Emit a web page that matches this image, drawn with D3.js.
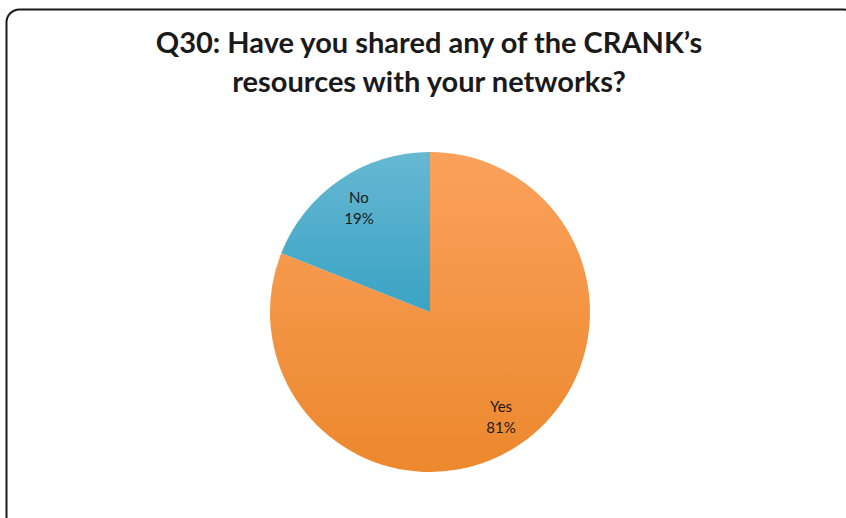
<!DOCTYPE html>
<html>
<head>
<meta charset="utf-8">
<script src="https://cdn.jsdelivr.net/npm/d3@7"></script>
<style>
  html, body { margin: 0; padding: 0; background: #fff; }
  svg { display: block; }
</style>
</head>
<body>
<svg id="chart" width="846" height="518"></svg>
<script>
// Survey answers and their shares (percent)
const answers = ["Yes", "No"];
const shares = [81, 19];
const titleLines = ["Q30: Have you shared any of the CRANK\u2019s", "resources with your networks?"];

const svg = d3.select("#chart");

// Chart frame with rounded corners
svg.append("rect")
  .attr("x", 6.5).attr("y", 9.5)
  .attr("width", 850).attr("height", 520)
  .attr("rx", 13).attr("ry", 13)
  .attr("fill", "#fff")
  .attr("stroke", "#1a1a1a")
  .attr("stroke-width", 2);

// Title
svg.append("text")
  .attr("x", 429).attr("y", 53)
  .attr("text-anchor", "middle")
  .attr("font-family", "Lato, sans-serif")
  .attr("font-weight", "bold")
  .attr("font-size", 29)
  .attr("fill", "#1a1a1a")
  .selectAll("tspan")
  .data(titleLines)
  .join("tspan")
  .attr("x", 429)
  .attr("dy", (d, i) => i === 0 ? 0 : 39)
  .text(d => d);

const cx = 430, cy = 312, R = 160;

// Vertical shading per slice (coordinates relative to the pie centre)
const defs = svg.append("defs");
const fills = {
  Yes: ["#fba15c", "#ec882d", -R, R],
  No: ["#66b8d2", "#3aa3c4", -R, 0]
};
answers.forEach(a => {
  const lg = defs.append("linearGradient")
    .attr("id", "grad-" + a)
    .attr("gradientUnits", "userSpaceOnUse")
    .attr("x1", 0).attr("y1", fills[a][2])
    .attr("x2", 0).attr("y2", fills[a][3]);
  lg.append("stop").attr("offset", "0%").attr("stop-color", fills[a][0]);
  lg.append("stop").attr("offset", "100%").attr("stop-color", fills[a][1]);
});

const data = answers.map((a, i) => ({ answer: a, value: shares[i] }));
const pie = d3.pie().sort(null).value(d => d.value);
const arcs = pie(data);
const arc = d3.arc().innerRadius(0).outerRadius(R);
const labelArc = d3.arc().innerRadius(R * 0.79).outerRadius(R * 0.79);

const g = svg.append("g").attr("transform", `translate(${cx},${cy})`);

g.selectAll("path")
  .data(arcs)
  .join("path")
  .attr("d", arc)
  .attr("fill", d => `url(#grad-${d.data.answer})`)
  .attr("stroke", "none");

// Category and percent labels inside the slices
const labels = g.selectAll("text.lbl")
  .data(arcs)
  .join("text")
  .attr("class", "lbl")
  .attr("transform", d => {
    const [x, y] = labelArc.centroid(d);
    return `translate(${x},${y})`;
  })
  .attr("text-anchor", "middle")
  .attr("font-family", "Lato, sans-serif")
  .attr("font-size", 15)
  .attr("fill", "#1a1a1a");

labels.append("tspan")
  .attr("x", 0).attr("dy", "-0.3em")
  .text(d => d.data.answer);
labels.append("tspan")
  .attr("x", 0).attr("dy", "1.4em")
  .text(d => d.data.value + "%");
</script>
</body>
</html>
